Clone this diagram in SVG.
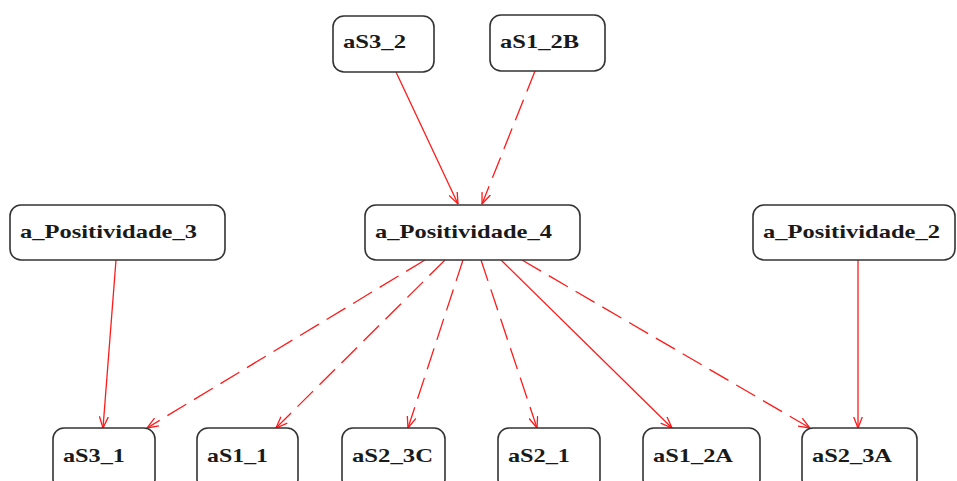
<svg xmlns="http://www.w3.org/2000/svg" width="957" height="481" viewBox="0 0 957 481">
<defs>
<style>
.box{fill:#fff;stroke:#333;stroke-width:1.6}
.lbl{font-family:"Liberation Serif","Times New Roman",serif;font-weight:bold;font-size:19px;fill:#1a1a1a}
.e{stroke:#ff1a1a;stroke-width:1.3;fill:none;marker-end:url(#arr)}
.d{stroke-dasharray:22,9}
</style>
<marker id="arr" viewBox="0 0 12 10" refX="11.5" refY="5" markerWidth="12" markerHeight="10" markerUnits="userSpaceOnUse" orient="auto">
<path d="M0,0.5 L11.5,5 L0,9.5" fill="none" stroke="#ff1a1a" stroke-width="1.3"/>
</marker>
</defs>
<rect width="957" height="481" fill="#fff"/>
<g id="connectors">
<path class="e" d="M396,72 L458,204"/>
<path class="e d" d="M535,71 L482,204"/>
<path class="e" d="M116,260 L103,428"/>
<path class="e d" d="M425,260 L147,428"/>
<path class="e d" d="M445,260 L276,428"/>
<path class="e d" d="M463,260 L408,428"/>
<path class="e d" d="M481,260 L537,428"/>
<path class="e" d="M501,260 L672,428"/>
<path class="e d" d="M522,260 L810,428"/>
<path class="e" d="M858,260 L858,428"/>
</g>
<g id="aS3_2"><rect class="box" x="333" y="16" width="101" height="56" rx="11"/><text class="lbl" x="343" y="48" textLength="63" lengthAdjust="spacingAndGlyphs">aS3_2</text></g>
<g id="aS1_2B"><rect class="box" x="490" y="15" width="115" height="56" rx="11"/><text class="lbl" x="500" y="48" textLength="79" lengthAdjust="spacingAndGlyphs">aS1_2B</text></g>
<g id="a_Positividade_3"><rect class="box" x="10" y="205" width="215" height="55" rx="11"/><text class="lbl" x="20" y="238" textLength="177" lengthAdjust="spacingAndGlyphs">a_Positividade_3</text></g>
<g id="a_Positividade_4"><rect class="box" x="365" y="205" width="215" height="55" rx="11"/><text class="lbl" x="375" y="238" textLength="177" lengthAdjust="spacingAndGlyphs">a_Positividade_4</text></g>
<g id="a_Positividade_2"><rect class="box" x="753" y="205" width="202" height="55" rx="11"/><text class="lbl" x="763" y="238" textLength="177" lengthAdjust="spacingAndGlyphs">a_Positividade_2</text></g>
<g id="aS3_1"><rect class="box" x="53" y="428" width="102" height="62" rx="11"/><text class="lbl" x="63" y="462" textLength="62" lengthAdjust="spacingAndGlyphs">aS3_1</text></g>
<g id="aS1_1"><rect class="box" x="197" y="428" width="101" height="62" rx="11"/><text class="lbl" x="207" y="462" textLength="61" lengthAdjust="spacingAndGlyphs">aS1_1</text></g>
<g id="aS2_3C"><rect class="box" x="342" y="428" width="103" height="62" rx="11"/><text class="lbl" x="352" y="462" textLength="81" lengthAdjust="spacingAndGlyphs">aS2_3C</text></g>
<g id="aS2_1"><rect class="box" x="498" y="428" width="102" height="62" rx="11"/><text class="lbl" x="508" y="462" textLength="62" lengthAdjust="spacingAndGlyphs">aS2_1</text></g>
<g id="aS1_2A"><rect class="box" x="643" y="428" width="117" height="62" rx="11"/><text class="lbl" x="653" y="462" textLength="80" lengthAdjust="spacingAndGlyphs">aS1_2A</text></g>
<g id="aS2_3A"><rect class="box" x="802" y="428" width="115" height="62" rx="11"/><text class="lbl" x="812" y="462" textLength="80" lengthAdjust="spacingAndGlyphs">aS2_3A</text></g>
</svg>
